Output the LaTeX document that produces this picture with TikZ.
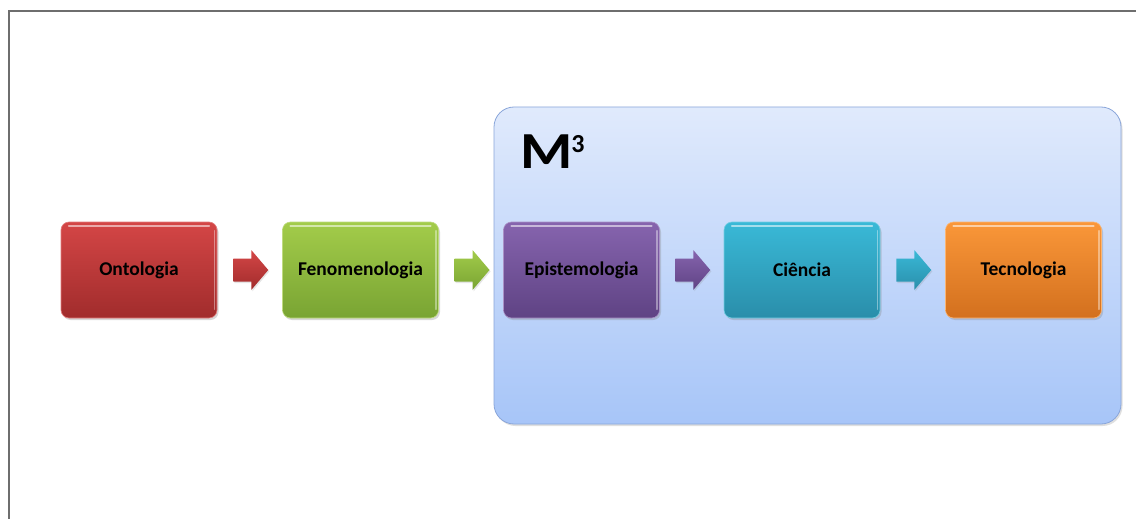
\documentclass[tikz,border=0pt]{standalone}
\usepackage{fontspec}
\setmainfont{Carlito}
\usetikzlibrary{shadows,calc}

\definecolor{frameline}{HTML}{6E6E6E}
\definecolor{panelTop}{HTML}{E0EAFC}
\definecolor{panelBot}{HTML}{A7C5F8}
\definecolor{panelEdge}{HTML}{8AA6DA}
\definecolor{redT}{HTML}{D44646}\definecolor{redB}{HTML}{A12C2C}
\definecolor{grnT}{HTML}{A3CC4A}\definecolor{grnB}{HTML}{79A433}
\definecolor{purT}{HTML}{8664AE}\definecolor{purB}{HTML}{5F4384}
\definecolor{tealT}{HTML}{39B9D7}\definecolor{tealB}{HTML}{2A8EAA}
\definecolor{orgT}{HTML}{FA9739}\definecolor{orgB}{HTML}{D3701E}

\tikzset{
  panel/.style={draw=panelEdge, line width=0.8pt, rounded corners=20pt,
    top color=panelTop, bottom color=panelBot,
    drop shadow={opacity=0.25, shadow xshift=1.5pt, shadow yshift=-2pt},
    minimum width=627pt, minimum height=317pt},
  stage/.style args={#1/#2}{rounded corners=8pt, top color=#1, bottom color=#2,
    draw=#1!70!white, line width=0.6pt,
    drop shadow={opacity=0.3, shadow xshift=1.5pt, shadow yshift=-2pt},
    minimum width=156pt, minimum height=96pt,
    font=\fontsize{19.5}{22}\selectfont\bfseries, text=black},
  blockarrow/.style args={#1/#2}{top color=#1, bottom color=#2,
    drop shadow={opacity=0.2, shadow xshift=1pt, shadow yshift=-1.5pt}},
  gloss/.style={white, opacity=0.55, line width=1.6pt, line cap=round},
}

% light highlight along the top and right inner edges of a stage box
\newcommand{\glossy}[1]{%
  \draw[gloss] ($(#1.north west)+(8,4)$) -- ($(#1.north east)+(-8,4)$);
  \draw[gloss, opacity=0.4] ($(#1.north east)+(-3,9)$) -- ($(#1.south east)+(-3,-9)$);
}

% block arrow centred midway between two stage boxes
\newcommand{\stagearrow}[5]{%
  \coordinate (#1) at ($(#2.east)!0.5!(#3.west)+(1,0)$);
  \begin{scope}[shift={(#1)}]
    \path[blockarrow=#4/#5] (-17.5,-11.5) -- (0.5,-11.5) -- (0.5,-20)
      -- (17.5,0) -- (0.5,20) -- (0.5,11.5) -- (-17.5,11.5) -- cycle;
  \end{scope}
}

\begin{document}
\begin{tikzpicture}[x=1pt, y=-1pt]
\useasboundingbox (0,0) rectangle (1136,519);
\fill[white] (0,0) rectangle (1136,519);

% outer frame (left and top edges)
\draw[frameline, line width=2pt] (9,519) -- (9,11) -- (1136,11);

% panel grouping the last three stages
\node[panel] (m3) at (807.5,265.5) {};
\node[anchor=base west, inner sep=0pt, font=\fontsize{52}{52}\selectfont\bfseries]
  (m3label) at (520,168)
  {\scalebox{1.15}[1]{M}\kern-1pt\raisebox{16pt}{\fontsize{26}{26}\selectfont 3}};

% stages
\node[stage=redT/redB]   (ont) at (139,270)   {Ontologia};
\node[stage=grnT/grnB]   (fen) at (360.5,270) {Fenomenologia};
\node[stage=purT/purB]   (epi) at (581.5,270) {Epistemologia};
\node[stage=tealT/tealB] (cie) at (802,270)   {Ciência};
\node[stage=orgT/orgB]   (tec) at (1023.5,270){Tecnologia};

\glossy{ont}\glossy{fen}\glossy{epi}\glossy{cie}\glossy{tec}

% block arrows between consecutive stages
\stagearrow{a1}{ont}{fen}{redT}{redB}
\stagearrow{a2}{fen}{epi}{grnT}{grnB}
\stagearrow{a3}{epi}{cie}{purT}{purB}
\stagearrow{a4}{cie}{tec}{tealT}{tealB}
\end{tikzpicture}
\end{document}
